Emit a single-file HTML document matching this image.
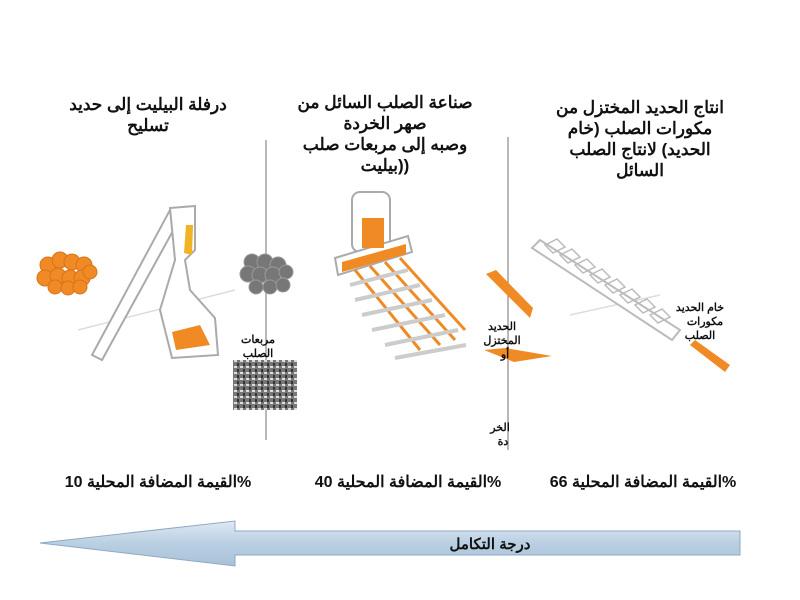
<!DOCTYPE html>
<html><head><meta charset="utf-8"><style>
body{margin:0;background:#fff;width:800px;height:600px;overflow:hidden}
svg{display:block}
text{font-family:"Liberation Sans","Noto Sans CJK SC",sans-serif;font-weight:bold;fill:#111;direction:rtl;unicode-bidi:embed}
</style></head><body>
<svg width="800" height="600" viewBox="0 0 800 600">
<defs>
<linearGradient id="ag" x1="0" y1="0" x2="0" y2="1">
<stop offset="0" stop-color="#dfe9f3"/><stop offset="0.5" stop-color="#b9cfe2"/><stop offset="1" stop-color="#a9c1d8"/></linearGradient>
<pattern id="scr" width="6" height="6" patternUnits="userSpaceOnUse"><rect width="6" height="6" fill="#777"/><rect width="3" height="2" fill="#ddd"/><rect x="3" y="3" width="2" height="3" fill="#333"/></pattern>
</defs>
<line x1="266" y1="140" x2="266" y2="440" stroke="#888" stroke-width="1.2"/>
<line x1="508" y1="137" x2="508" y2="450" stroke="#888" stroke-width="1.2"/>
<line x1="78" y1="330" x2="235" y2="290" stroke="#ddd" stroke-width="1.5"/>
<line x1="570" y1="315" x2="660" y2="295" stroke="#ddd" stroke-width="1.5"/>
<g font-size="17" text-anchor="middle">
<text x="148" y="110">درفلة  البيليت إلى حديد</text>
<text x="148" y="131">تسليح</text>
<text x="385" y="108">صناعة الصلب السائل من</text>
<text x="385" y="129">صهر الخردة</text>
<text x="385" y="150">وصبه إلى مربعات صلب</text>
<text x="385" y="171">((بيليت</text>
<text x="640" y="113">انتاج الحديد المختزل من</text>
<text x="640" y="134">مكورات الصلب (خام</text>
<text x="640" y="155">الحديد) لانتاج الصلب</text>
<text x="640" y="176">السائل</text>
</g>
<g fill="#f08a24" stroke="#d9731a">
<circle cx="48" cy="265" r="8"/><circle cx="60" cy="260" r="8"/><circle cx="72" cy="262" r="8"/><circle cx="84" cy="265" r="8"/>
<circle cx="45" cy="278" r="8"/><circle cx="58" cy="276" r="8"/><circle cx="70" cy="278" r="8"/><circle cx="82" cy="278" r="8"/><circle cx="90" cy="272" r="7"/>
<circle cx="55" cy="287" r="7"/><circle cx="68" cy="288" r="7"/><circle cx="80" cy="287" r="7"/>
</g>
<g fill="#777" stroke="#999">
<circle cx="252" cy="262" r="8"/><circle cx="265" cy="262" r="8"/><circle cx="278" cy="265" r="8"/>
<circle cx="248" cy="274" r="8"/><circle cx="260" cy="275" r="8"/><circle cx="273" cy="275" r="8"/><circle cx="286" cy="272" r="7"/>
<circle cx="256" cy="287" r="7"/><circle cx="270" cy="287" r="7"/><circle cx="283" cy="285" r="7"/>
</g>
<g fill="#fff" stroke="#aaa" stroke-width="2">
<polygon points="92,355 170,210 180,218 102,360"/>
<polygon points="170,208 195,206 195,250 185,260 190,290 215,318 218,355 172,358 160,310 175,260"/>
</g>
<polygon points="186,225 193,225 192,255 184,253" fill="#f0b323"/>
<polygon points="172,332 200,325 210,345 176,350" fill="#f08a24"/>
<rect x="233" y="360" width="64" height="50" fill="url(#scr)"/>
<g font-size="11" text-anchor="middle"><text x="258" y="343">مربعات</text><text x="258" y="357">الصلب</text></g>
<g fill="#fff" stroke="#aaa" stroke-width="2">
<rect x="352" y="192" width="38" height="60" rx="8"/>
<polygon points="335,258 408,236 412,252 338,275"/>
</g>
<rect x="362" y="218" width="22" height="30" fill="#f08a24"/>
<polygon points="342,262 406,244 406,254 342,272" fill="#f08a24"/>
<g stroke="#f08a24" stroke-width="3">
<line x1="355" y1="270" x2="420" y2="350"/><line x1="370" y1="266" x2="440" y2="345"/><line x1="385" y1="262" x2="455" y2="340"/><line x1="400" y1="258" x2="465" y2="330"/>
</g>
<g stroke="#ccc" stroke-width="4">
<line x1="350" y1="285" x2="408" y2="270"/><line x1="355" y1="300" x2="420" y2="285"/><line x1="362" y1="315" x2="432" y2="300"/><line x1="372" y1="330" x2="445" y2="315"/><line x1="385" y1="345" x2="458" y2="330"/><line x1="395" y1="358" x2="466" y2="345"/>
</g>
<polygon points="486,274 496,270 533,308 530,318" fill="#f08a24"/>
<polygon points="484,350 505,348 552,356 514,362" fill="#f08a24"/>
<g font-size="11" text-anchor="middle"><text x="502" y="330">الحديد</text><text x="502" y="344">المختزل</text><text x="505" y="358">أو</text><text x="500" y="431">الخر</text><text x="503" y="445">دة</text></g>
<g fill="#fff" stroke="#bbb" stroke-width="2">
<polygon points="532,248 540,240 680,330 672,340"/>
</g>
<g fill="none" stroke="#bbb" stroke-width="1.5">
<path d="M545,245 l12,-6 l8,8 l-12,6z M560,255 l12,-6 l8,8 l-12,6z M575,265 l12,-6 l8,8 l-12,6z M590,275 l12,-6 l8,8 l-12,6z M605,285 l12,-6 l8,8 l-12,6z M620,295 l12,-6 l8,8 l-12,6z M635,305 l12,-6 l8,8 l-12,6z M650,315 l12,-6 l8,8 l-12,6z"/>
</g>
<polygon points="690,345 695,340 730,365 725,372" fill="#f08a24"/>
<g font-size="11" text-anchor="middle"><text x="700" y="311">خام الحديد</text><text x="705" y="325">مكورات</text><text x="700" y="339">الصلب</text></g>
<g font-size="16" text-anchor="middle">
<text x="158" y="487">%القيمة المضافة المحلية 10</text>
<text x="408" y="487">%القيمة المضافة المحلية 40</text>
<text x="643" y="487">%القيمة المضافة المحلية 66</text>
</g>
<polygon points="40,543 235,521 235,531 740,531 740,555 235,555 235,566" fill="url(#ag)" stroke="#8fa9c2" stroke-width="1"/>
<text x="490" y="549" font-size="15" text-anchor="middle">درجة التكامل</text>
</svg>
</body></html>
